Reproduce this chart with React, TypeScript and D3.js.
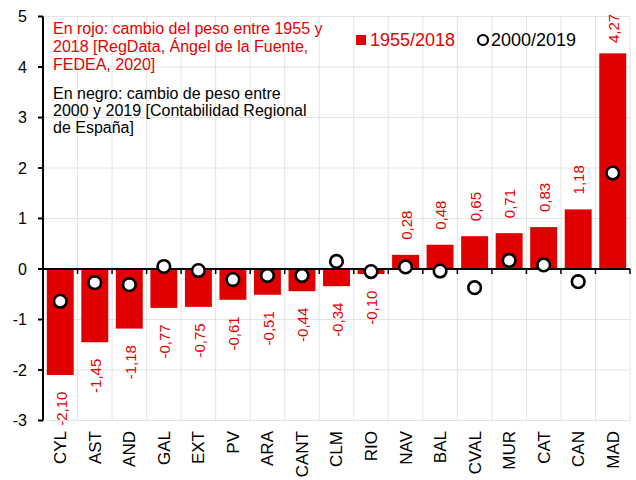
import React from "react";
import * as d3 from "d3";

const regions = ["CYL", "AST", "AND", "GAL", "EXT", "PV", "ARA", "CANT", "CLM", "RIO", "NAV", "BAL", "CVAL", "MUR", "CAT", "CAN", "MAD"];
const change1955_2018 = [-2.10, -1.45, -1.18, -0.77, -0.75, -0.61, -0.51, -0.44, -0.34, -0.10, 0.28, 0.48, 0.65, 0.71, 0.83, 1.18, 4.27];
const change2000_2019 = [-0.64, -0.27, -0.31, 0.05, -0.03, -0.21, -0.13, -0.13, 0.15, -0.05, 0.04, -0.04, -0.37, 0.17, 0.08, -0.25, 1.90];
const yTicks = [-3, -2, -1, 0, 1, 2, 3, 4, 5];
const legendLabels = ["1955/2018", "2000/2019"];
const noteRed = ["En rojo: cambio del peso entre 1955 y", "2018 [RegData, Ángel de la Fuente,", "FEDEA, 2020]"];
const noteBlack = ["En negro: cambio de peso entre", "2000 y 2019 [Contabilidad Regional", "de España]"];

const W = 636, H = 480;
const left = 43, right = 630, top = 16.5, bottom = 420.5;
const RED = "#e00000";
const TEXTRED = "#e60000";
const FONT = "'Liberation Sans', Arial, sans-serif";

const fmt = (v: number) => v.toFixed(2).replace(".", ",");

export default function App() {
  const x = d3.scaleBand<string>().domain(regions).range([left, right]).paddingInner(0.22).paddingOuter(0.11);
  const step = (right - left) / regions.length;
  const y = d3.scaleLinear().domain([-3, 5]).range([bottom, top]);
  const y0 = y(0);
  const boundaries = d3.range(regions.length + 1).map((i) => left + i * step);

  return (
    <svg width={W} height={H} style={{ position: "absolute", left: 0, top: 0, background: "#fff" }} fontFamily={FONT}>
      {/* grid */}
      {yTicks.map((t) => (
        <line key={"hg" + t} x1={left} x2={right} y1={y(t)} y2={y(t)} stroke="#e4e4e4" strokeWidth={1} />
      ))}
      {boundaries.slice(1).map((b, i) => (
        <line key={"vg" + i} x1={b} x2={b} y1={top} y2={bottom} stroke="#e4e4e4" strokeWidth={1} />
      ))}
      {/* bars */}
      {regions.map((r, i) => {
        const v = change1955_2018[i];
        return (
          <rect key={"b" + r} x={x(r)} width={x.bandwidth()} y={Math.min(y(v), y0)} height={Math.abs(y(v) - y0)} fill={RED} />
        );
      })}
      {/* bar labels */}
      {regions.map((r, i) => {
        const v = change1955_2018[i];
        const cx = (x(r) as number) + x.bandwidth() / 2 + 1;
        if (v >= 0) {
          const yy = Math.max(y(v) - 15, 43);
          return (
            <text key={"l" + r} transform={`translate(${cx},${yy}) rotate(-90)`} textAnchor="start" dy="0.35em" fontSize={15} fill={TEXTRED}>
              {fmt(v)}
            </text>
          );
        }
        const yy = y(v) + 16.5;
        return (
          <text key={"l" + r} transform={`translate(${cx},${yy}) rotate(-90)`} textAnchor="end" dy="0.35em" fontSize={15} fill={TEXTRED}>
            {fmt(v)}
          </text>
        );
      })}
      {/* x axis at zero */}
      <line x1={left} x2={right} y1={y0} y2={y0} stroke="#000" strokeWidth={2} />
      {boundaries.slice(1).map((b, i) => (
        <line key={"xt" + i} x1={b} x2={b} y1={y0} y2={y0 + 5} stroke="#000" strokeWidth={1.5} />
      ))}
      {/* y axis */}
      <line x1={left} x2={left} y1={top} y2={bottom} stroke="#000" strokeWidth={2} />
      {yTicks.map((t) => (
        <g key={"yt" + t}>
          <line x1={left - 5} x2={left} y1={y(t)} y2={y(t)} stroke="#000" strokeWidth={2} />
          <text x={27} y={y(t)} dy="0.35em" textAnchor="end" fontSize={16} fill="#000">
            {t}
          </text>
        </g>
      ))}
      {/* x labels */}
      {regions.map((r) => {
        const cx = (x(r) as number) + x.bandwidth() / 2;
        return (
          <text key={"xl" + r} transform={`translate(${cx},${431}) rotate(-90)`} textAnchor="end" dy="0.35em" fontSize={17} fill="#000">
            {r}
          </text>
        );
      })}
      {/* points */}
      {regions.map((r, i) => {
        const cx = (x(r) as number) + x.bandwidth() / 2;
        return <circle key={"p" + r} cx={cx} cy={y(change2000_2019[i])} r={6.3} fill="#fff" stroke="#000" strokeWidth={2.6} />;
      })}
      {/* notes */}
      <text x={53} y={34} fontSize={16} fill={TEXTRED}>
        {noteRed.map((s, i) => (
          <tspan key={i} x={53} dy={i === 0 ? 0 : 18}>{s}</tspan>
        ))}
      </text>
      <text x={53} y={98.5} fontSize={16} fill="#000">
        {noteBlack.map((s, i) => (
          <tspan key={i} x={53} dy={i === 0 ? 0 : 17}>{s}</tspan>
        ))}
      </text>
      {/* legend */}
      <rect x={356} y={35} width={10} height={10} fill={RED} />
      <text x={370} y={46} fontSize={18} fill={TEXTRED}>{legendLabels[0]}</text>
      <circle cx={483} cy={40} r={5} fill="#fff" stroke="#000" strokeWidth={2.2} />
      <text x={491} y={46} fontSize={18} fill="#000">{legendLabels[1]}</text>
    </svg>
  );
}
